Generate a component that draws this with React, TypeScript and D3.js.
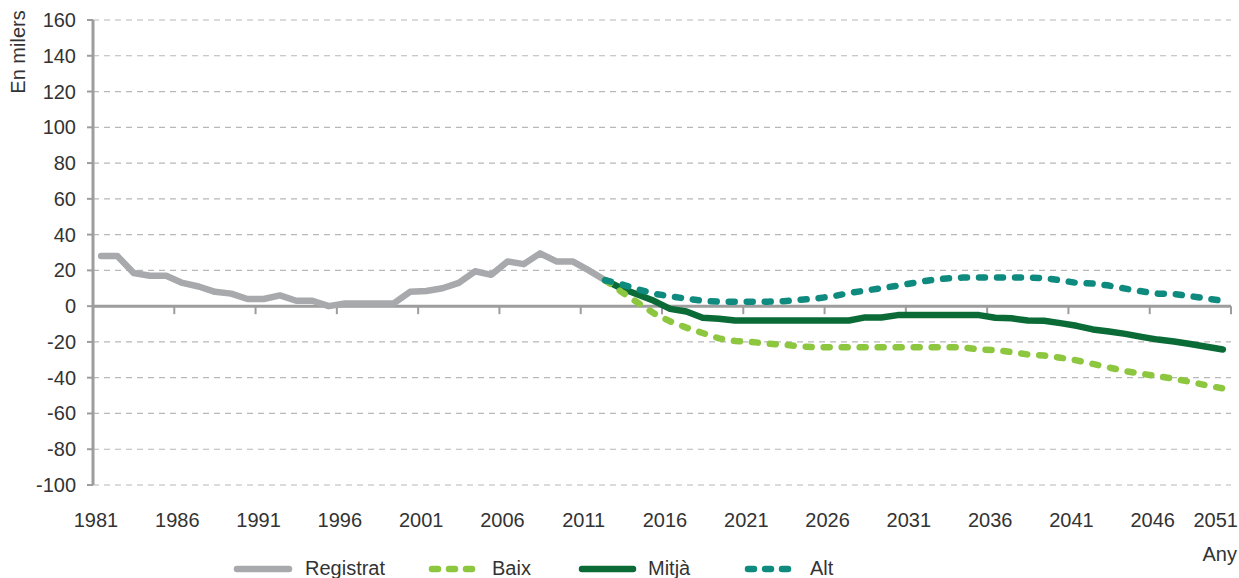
import React from "react";
import * as d3 from "d3";

const W = 1239;
const H = 578;

const yTicks = [160, 140, 120, 100, 80, 60, 40, 20, 0, -20, -40, -60, -80, -100];
const xTickLabels = ["1981", "1986", "1991", "1996", "2001", "2006", "2011", "2016", "2021", "2026", "2031", "2036", "2041", "2046", "2051"];

const histStart = 1981;
const registrat = [28, 28, 18.5, 17, 17, 13, 11, 8, 7, 4, 4, 6, 3, 3, 0, 1.5, 1.5, 1.5, 1.5, 8, 8.5, 10, 13, 19.5, 17.5, 25, 23.5, 29.5, 25, 25, 20, 14.5];

const projStart = 2012;
const baix = [14.5, 8, 2, -4, -8.5, -12, -15, -18, -19.5, -20, -21, -21.5, -22.5, -23, -23, -23, -23, -23, -23, -23, -23, -23, -23, -24.3, -24.5, -25.7, -27, -27.6, -28.8, -30.3, -32.3, -34.3, -36.3, -37.8, -39.2, -40.6, -42.3, -44.3, -46];
const mitja = [14.5, 10, 6.5, 3, -1.5, -3, -6.5, -7, -8, -8, -8, -8, -8, -8, -8, -8, -6.3, -6.3, -5, -4.9, -4.9, -4.9, -4.9, -5, -6.5, -6.8, -8, -8.2, -9.5, -11, -13, -14.2, -15.5, -17.2, -18.7, -19.8, -21.2, -22.7, -24.2];
const alt = [14.5, 12.3, 9.5, 7, 5.5, 4.2, 3, 2.5, 2.5, 2.5, 2.5, 2.8, 3.6, 4.3, 5.5, 7.3, 8.7, 10, 11.5, 13, 14.5, 15.5, 16, 16, 16, 16, 16, 15.7, 14.5, 13, 12.6, 11.5, 9.8, 8.3, 7, 6.8, 5.6, 4.2, 3];

const seriesNames = ["Registrat", "Baix", "Mitjà", "Alt"];
const seriesColors = ["#a7a9ac", "#8dc63f", "#0b6b37", "#0f8a7e"];

const FONT = "'Liberation Sans', Arial, sans-serif";
const TEXT = "#333333";

export default function App() {
  const left = 93;
  const right = 1231;
  const top = 20;
  const bottom = 485;

  const x = d3.scaleLinear().domain([1981, 2051]).range([left, right]);
  const y = d3.scaleLinear().domain([-100, 160]).range([bottom, top]);

  // data points centered between tick marks (category axis)
  const px = (year: number) => x(year + 0.5);

  const mk = (vals: number[], start: number) =>
    d3
      .line<number>()
      .x((_, i) => px(start + i))
      .y((d) => y(d))(vals) as string;

  const dashStyle = { strokeDasharray: "6 12", strokeLinecap: "round" as const };

  const legendY = 569;
  const legendItems = [
    { x0: 237, x1: 289, tx: 305, dashed: false },
    { x0: 432, x1: 476, tx: 492, dashed: true },
    { x0: 582, x1: 633, tx: 648, dashed: false },
    { x0: 748, x1: 792, tx: 810, dashed: true },
  ];

  return (
    <svg
      width={W}
      height={H}
      style={{ position: "absolute", left: 0, top: 0, background: "#fff" }}
      fontFamily={FONT}
    >
      {/* grid lines */}
      {yTicks
        .filter((t) => t !== 0)
        .map((t) => (
          <line
            key={"g" + t}
            x1={left}
            x2={right}
            y1={y(t)}
            y2={y(t)}
            stroke="#b8b8b8"
            strokeWidth={1.2}
            strokeDasharray="6 5"
          />
        ))}
      {/* y axis */}
      <line x1={left} x2={left} y1={y(160)} y2={y(-100)} stroke="#9d9d9d" strokeWidth={3} />
      {yTicks.map((t) => (
        <g key={"yt" + t}>
          <line x1={left - 6} x2={left} y1={y(t)} y2={y(t)} stroke="#9d9d9d" strokeWidth={2} />
          <text x={76} y={y(t) + 7} textAnchor="end" fontSize={20} fill={TEXT}>
            {t}
          </text>
        </g>
      ))}
      {/* x axis at zero */}
      <line x1={left} x2={right} y1={y(0)} y2={y(0)} stroke="#9d9d9d" strokeWidth={3} />
      {xTickLabels.map((lab, i) => {
        const xv = x(+lab);
        const last = i === xTickLabels.length - 1;
        return (
          <g key={"xt" + lab}>
            <line x1={xv} x2={xv} y1={y(0)} y2={y(0) + 8} stroke="#9d9d9d" strokeWidth={2} />
            <text
              x={last ? W - 1 : xv + 3}
              y={527}
              textAnchor={last ? "end" : "middle"}
              fontSize={20}
              fill={TEXT}
            >
              {lab}
            </text>
          </g>
        );
      })}
      <text x={W - 2} y={561} textAnchor="end" fontSize={20} fill={TEXT}>
        Any
      </text>
      <text
        transform={`translate(25,52) rotate(-90)`}
        textAnchor="middle"
        fontSize={20}
        fill={TEXT}
      >
        En milers
      </text>

      {/* series */}
      <path d={mk(registrat, histStart)} fill="none" stroke={seriesColors[0]} strokeWidth={6.5} strokeLinejoin="round" strokeLinecap="round" />
      <path d={mk(mitja, projStart)} fill="none" stroke={seriesColors[2]} strokeWidth={6.5} strokeLinejoin="round" strokeLinecap="round" />
      <path d={mk(baix, projStart)} fill="none" stroke={seriesColors[1]} strokeWidth={6.5} strokeLinejoin="round" {...dashStyle} />
      <path d={mk(alt, projStart)} fill="none" stroke={seriesColors[3]} strokeWidth={6.5} strokeLinejoin="round" {...dashStyle} />

      {/* legend */}
      {legendItems.map((it, i) => (
        <g key={"lg" + i}>
          <line
            x1={it.x0}
            x2={it.x1}
            y1={legendY}
            y2={legendY}
            stroke={seriesColors[i]}
            strokeWidth={6.5}
            strokeLinecap="round"
            strokeDasharray={it.dashed ? "6 11" : undefined}
          />
          <text x={it.tx} y={legendY + 6} fontSize={20} fill={TEXT}>
            {seriesNames[i]}
          </text>
        </g>
      ))}
    </svg>
  );
}
